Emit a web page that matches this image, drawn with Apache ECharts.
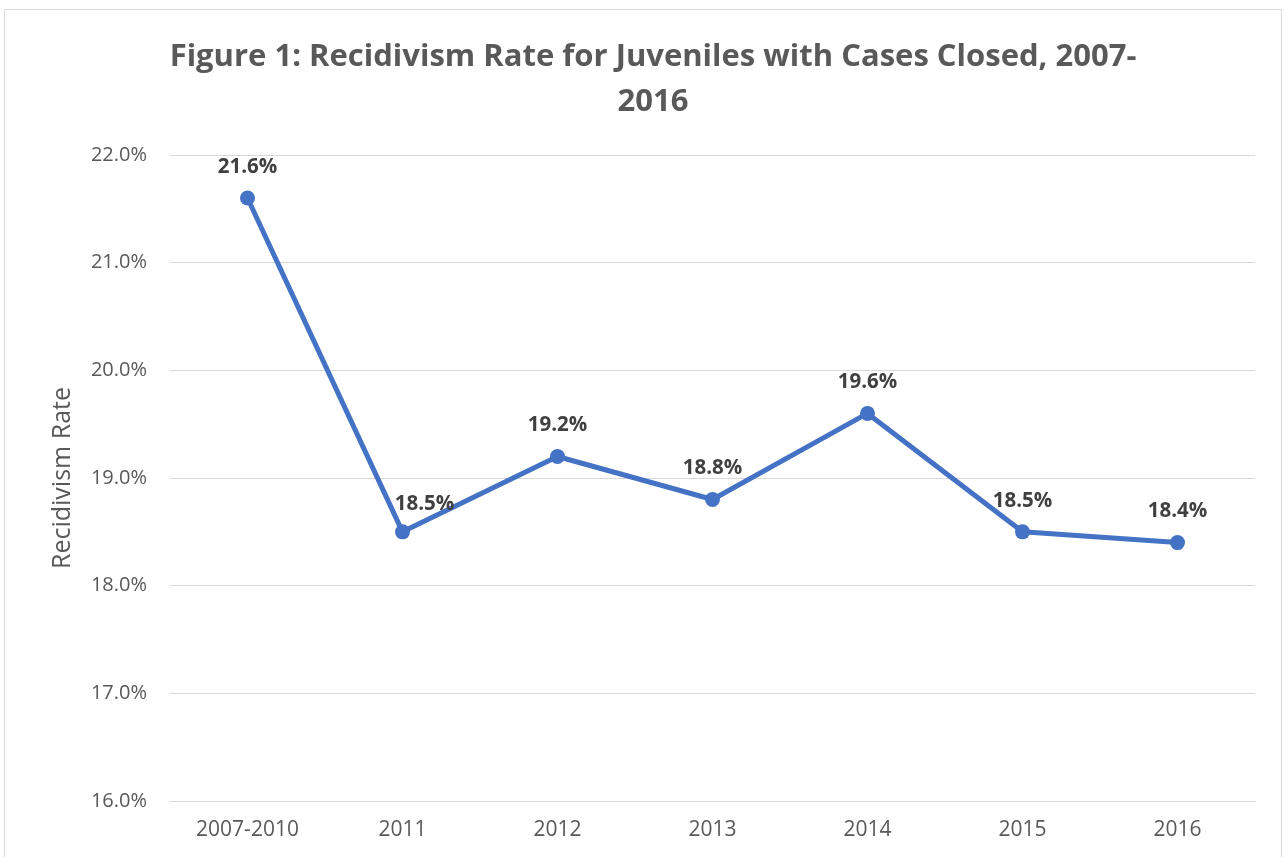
<!DOCTYPE html>
<html>
<head>
<meta charset="utf-8">
<script src="https://cdn.jsdelivr.net/npm/echarts@6/dist/echarts.min.js"></script>
<style>
html,body{margin:0;padding:0;background:#fff;}
#chart{width:1285px;height:857px;}
</style>
</head>
<body>
<div id="chart"></div>
<script>
const categories = ['2007-2010','2011','2012','2013','2014','2015','2016'];
const rates = [21.6, 18.5, 19.2, 18.8, 19.6, 18.5, 18.4];
const titleText = 'Figure 1: Recidivism Rate for Juveniles with Cases Closed, 2007-\n2016';
const yAxisName = 'Recidivism Rate';

const chart = echarts.init(document.getElementById('chart'));
const seriesData = rates.map((v, i) => {
  const d = { value: v };
  if (i === 1) d.label = { offset: [22, 3] };
  return d;
});
chart.setOption({
  animation: false,
  backgroundColor: '#ffffff',
  graphic: [{
    type: 'rect',
    shape: { x: 4.5, y: 9.5, width: 1277, height: 900 },
    style: { fill: 'none', stroke: '#d9d9d9', lineWidth: 1 },
    silent: true
  }],
  title: {
    text: titleText,
    left: 648,
    textAlign: 'center',
    top: 30,
    textStyle: { fontFamily: 'Open Sans', fontWeight: 'bold', fontSize: 31, color: '#595959', lineHeight: 45 }
  },
  grid: { left: 170, right: 30, top: 155, bottom: 56, containLabel: false },
  xAxis: {
    type: 'category',
    data: categories,
    boundaryGap: true,
    axisLine: { show: true, lineStyle: { color: '#d9d9d9', width: 1 } },
    axisTick: { show: false },
    axisLabel: { fontFamily: 'Open Sans', fontSize: 21, color: '#595959', margin: 19 }
  },
  yAxis: {
    type: 'value',
    min: 16,
    max: 22,
    interval: 1,
    name: yAxisName,
    nameLocation: 'middle',
    nameGap: 95,
    nameRotate: 90,
    nameTextStyle: { fontFamily: 'Open Sans', fontSize: 25, color: '#595959' },
    axisLine: { show: false },
    axisTick: { show: false },
    splitLine: { lineStyle: { color: '#d9d9d9', width: 1 } },
    axisLabel: { fontFamily: 'Open Sans', fontSize: 20, color: '#595959', margin: 23,
      formatter: v => v.toFixed(1) + '%' }
  },
  series: [{
    type: 'line',
    data: seriesData,
    symbol: 'circle',
    symbolSize: 15,
    lineStyle: { color: '#4472C4', width: 5 },
    itemStyle: { color: '#4472C4' },
    label: {
      show: true,
      position: 'top',
      distance: 13,
      fontFamily: 'Open Sans',
      fontWeight: 'bold',
      fontSize: 20.5,
      color: '#404040',
      formatter: p => p.value.toFixed(1) + '%'
    }
  }]
});
</script>
</body>
</html>
